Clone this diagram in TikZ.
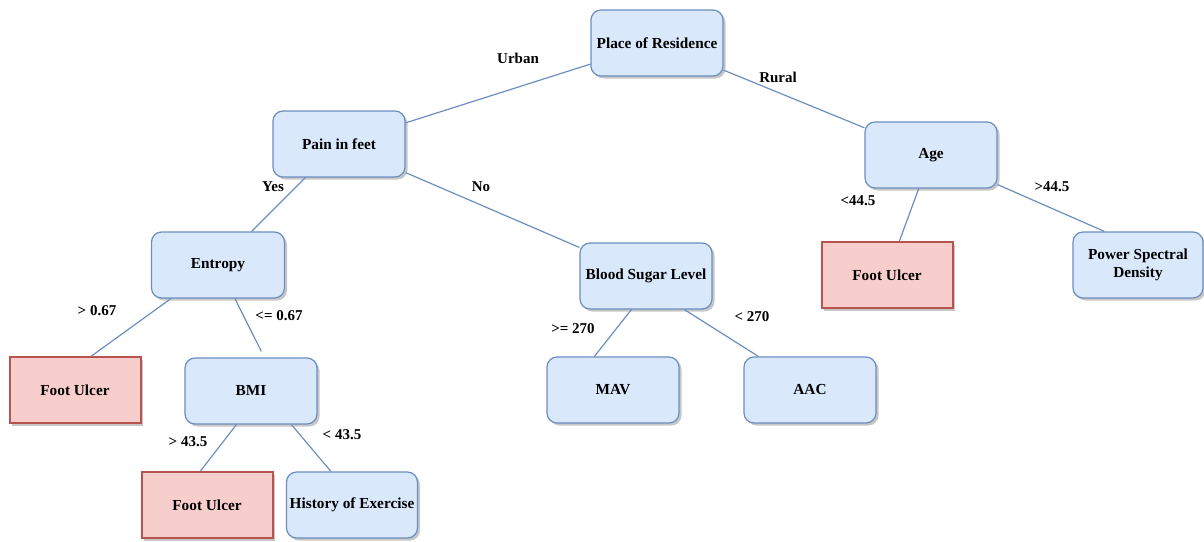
\documentclass[tikz,border=0pt]{standalone}
\usepackage{fontspec}
\setmainfont{Liberation Serif}
\usetikzlibrary{shadows}
\definecolor{bfill}{HTML}{DAE8FC}
\definecolor{bline}{HTML}{6C8EBF}
\definecolor{rfill}{HTML}{F8CECC}
\definecolor{rline}{HTML}{B85450}
\tikzset{
  shad/.style={drop shadow={shadow xshift=2.5pt,shadow yshift=-2.5pt,fill=black,opacity=0.22}},
  bluebox/.style={shad,draw=bline,fill=bfill,line width=1.2pt,rounded corners=10pt,
    minimum width=132pt,minimum height=66pt,inner sep=0pt,align=center,
    font=\fontsize{15.3pt}{18pt}\selectfont\bfseries},
  redbox/.style={shad,draw=rline,fill=rfill,line width=2pt,
    minimum width=131pt,minimum height=66pt,inner sep=0pt,align=center,
    font=\fontsize{15.3pt}{18pt}\selectfont\bfseries},
  edge/.style={draw=bline,line width=1.2pt},
  lbl/.style={font=\fontsize{15pt}{18pt}\selectfont\bfseries,inner sep=0pt}
}
\begin{document}
\begin{tikzpicture}[x=1pt,y=-1pt]
\useasboundingbox (0,0) rectangle (1204,541);
% nodes
\node[bluebox] (pr) at (657,43) {Place of Residence};
\node[bluebox] (pif) at (339,144) {Pain in feet};
\node[bluebox] (age) at (931,155) {Age};
\node[bluebox,minimum width=133pt] (ent) at (218,265) {Entropy};
\node[bluebox] (bsl) at (646,276) {Blood Sugar Level};
\node[redbox] (fu1) at (887,275) {Foot Ulcer};
\node[bluebox,minimum width=130pt] (psd) at (1138,265) {Power Spectral\\Density};
\node[redbox] (fu2) at (75,390) {Foot Ulcer};
\node[bluebox] (bmi) at (251,391) {BMI};
\node[bluebox] (mav) at (613,390) {MAV};
\node[bluebox] (aac) at (810,390) {AAC};
\node[redbox] (fu3) at (207,505) {Foot Ulcer};
\node[bluebox,minimum width=131pt] (hoe) at (352,505) {History of Exercise};
% edges
\draw[edge] (pr) -- (pif);
\draw[edge] (pr) -- (age);
\draw[edge] (pif) -- (ent);
\draw[edge] (pif) -- (bsl);
\draw[edge] (age) -- (fu1);
\draw[edge] ([yshift=4pt]age.south east) -- ([xshift=32pt]psd.north west);
\draw[edge] ([xshift=20pt]ent.south west) -- ([xshift=83pt]fu2.north west);
\coordinate (bmitop) at ([xshift=77pt,yshift=6pt]bmi.north west);
\draw[edge] ([xshift=84pt]ent.south west) -- (bmitop);
\draw[edge] ([xshift=52pt]bsl.south west) -- ([xshift=48pt]mav.north west);
\draw[edge] ([xshift=105pt]bsl.south west) -- ([xshift=15pt]aac.north west);
\draw[edge] ([xshift=52pt]bmi.south west) -- ([xshift=60pt]fu3.north west);
\draw[edge] ([xshift=107pt]bmi.south west) -- ([xshift=45pt]hoe.north west);
% labels
\node[lbl] (lurban) at (518,58) {Urban};
\node[lbl] (lrural) at (778,77) {Rural};
\node[lbl] (lyes) at (273,187) {Yes};
\node[lbl] (lno) at (481,187) {No};
\node[lbl] (llt445) at (858,201) {<44.5};
\node[lbl] (lgt445) at (1052,187) {>44.5};
\node[lbl] (lgt067) at (97,311) {> 0.67};
\node[lbl] (lle067) at (279,316) {<= 0.67};
\node[lbl] (lge270) at (573,329) {>= 270};
\node[lbl] (llt270) at (752,317) {< 270};
\node[lbl] (lgt435) at (188,442) {> 43.5};
\node[lbl] (llt435) at (342,435) {< 43.5};
\end{tikzpicture}
\end{document}
